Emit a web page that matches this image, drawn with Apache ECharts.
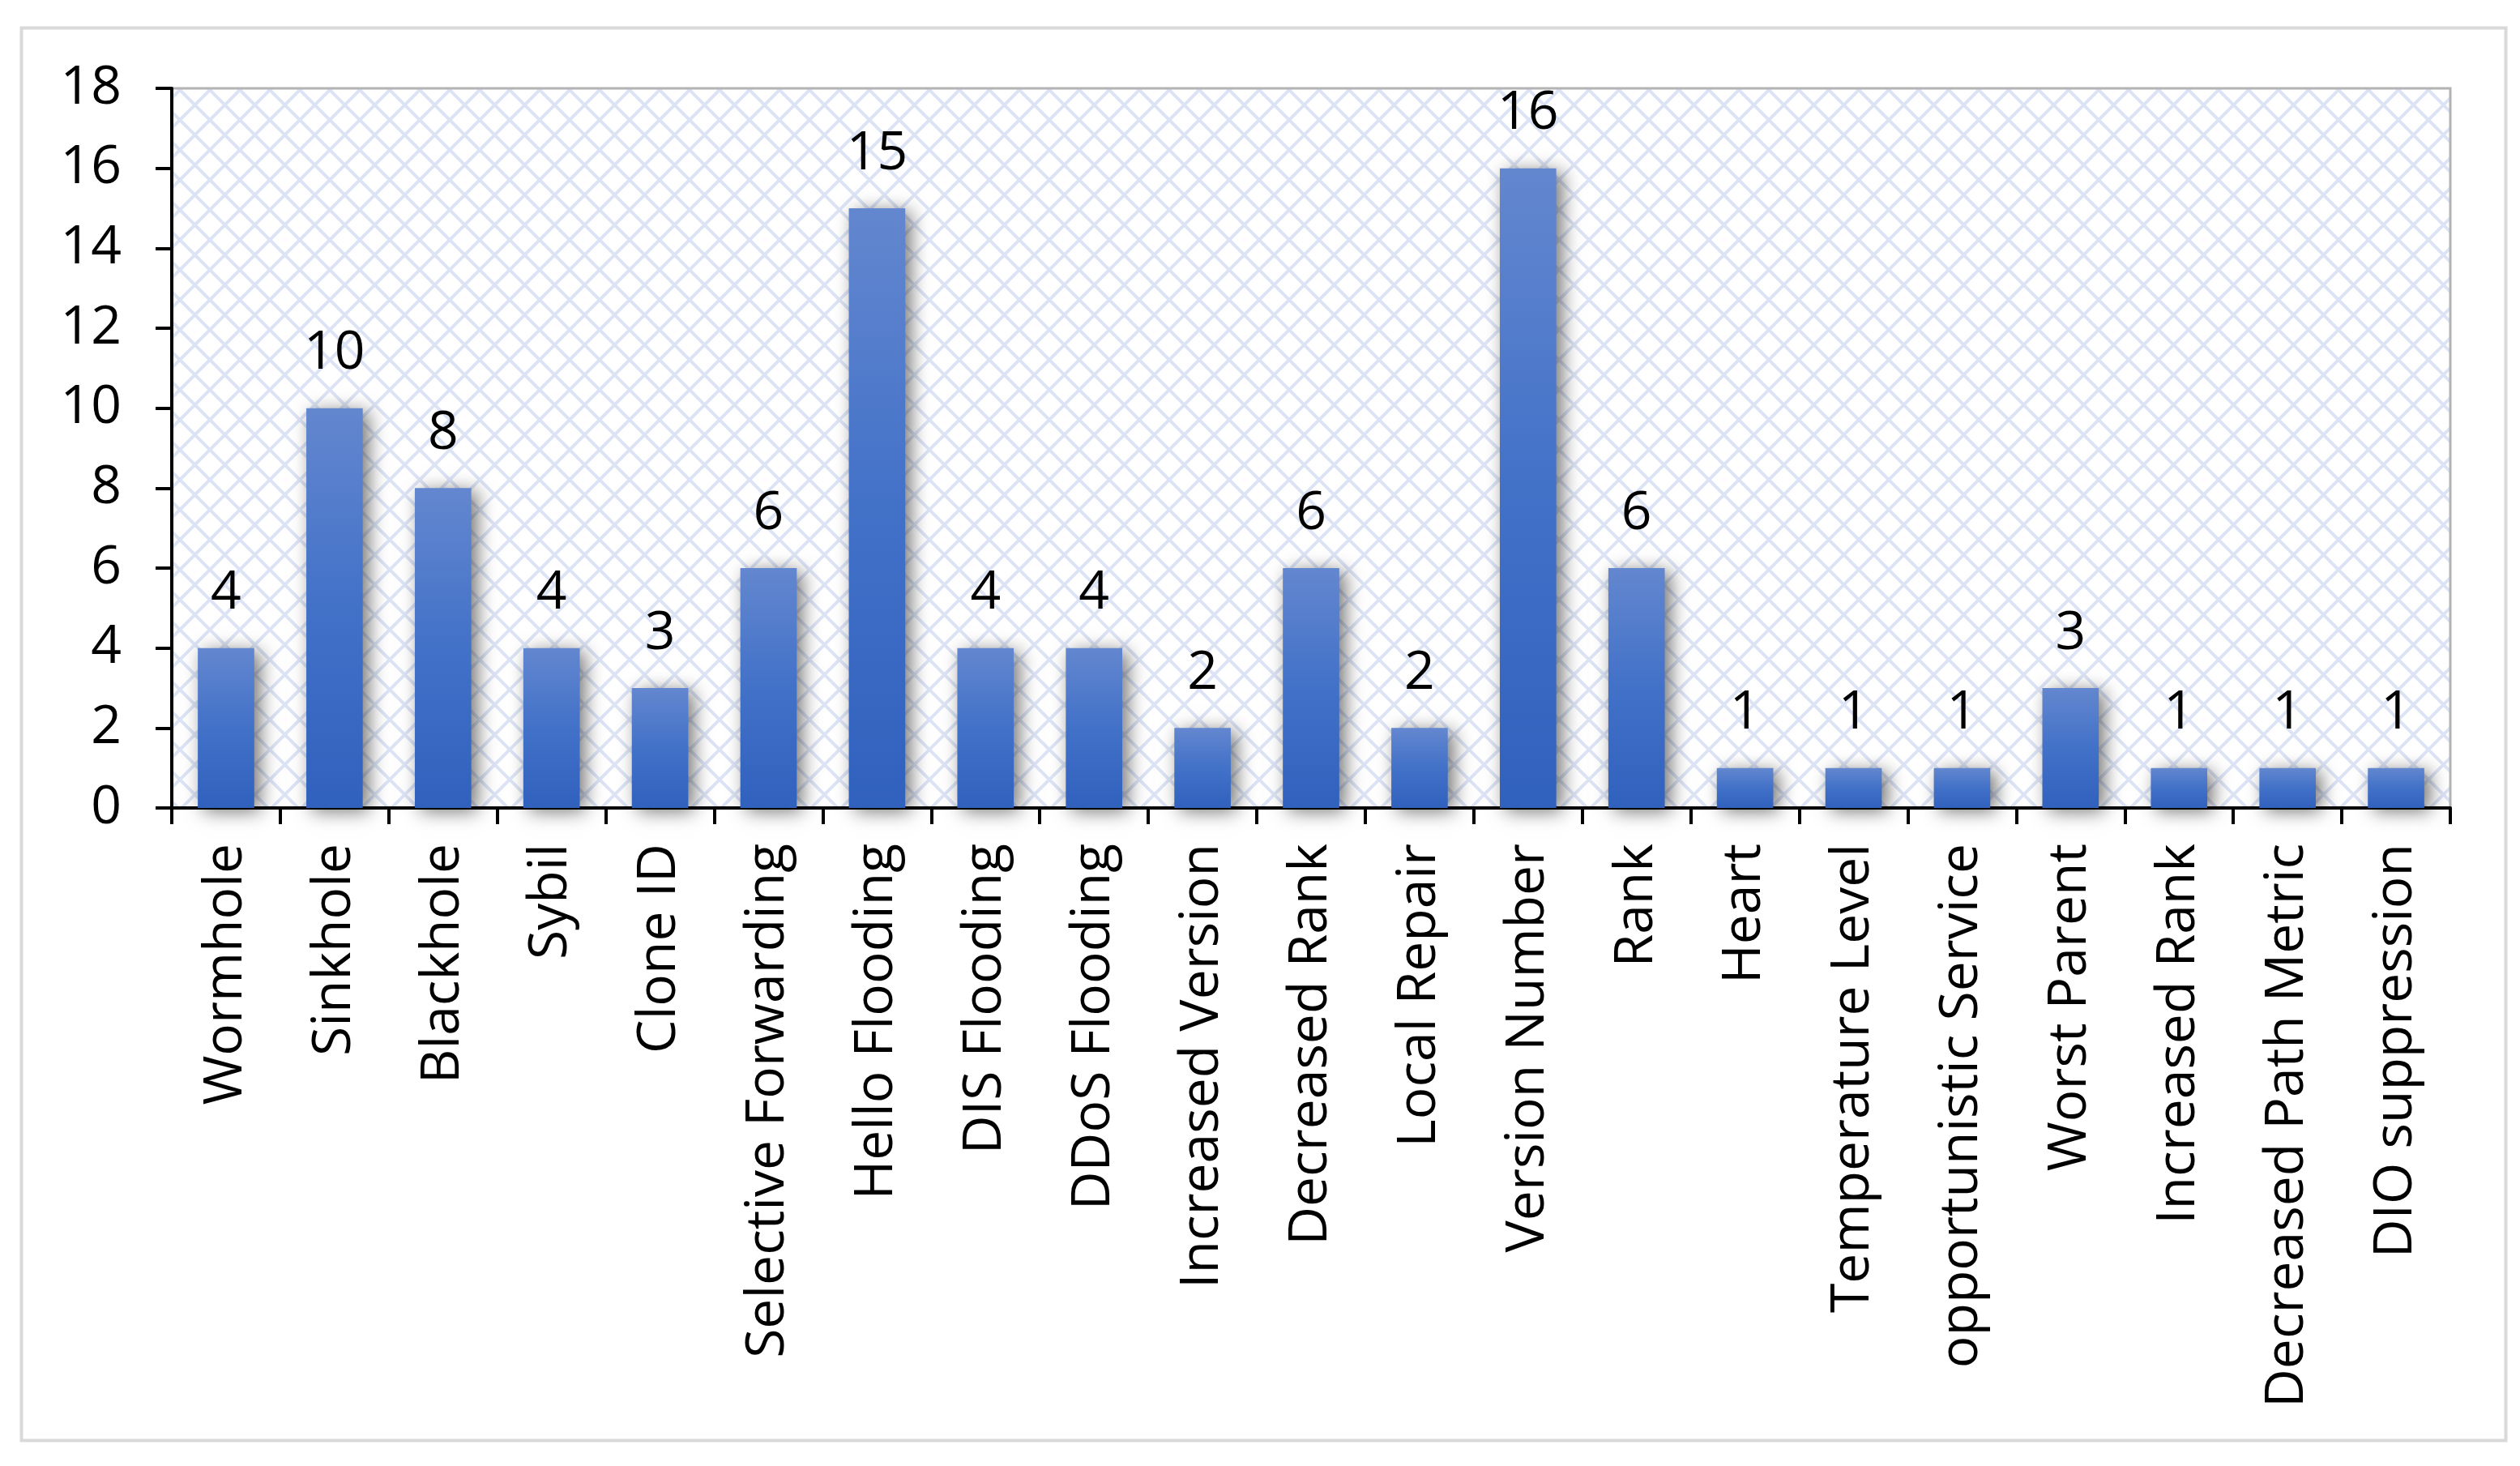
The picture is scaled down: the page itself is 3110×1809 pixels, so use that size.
<!DOCTYPE html>
<html>
<head>
<meta charset="utf-8">
<script src="https://cdn.jsdelivr.net/npm/echarts@6/dist/echarts.min.js"></script>
<style>
html,body{margin:0;padding:0;background:#fff;}
#chart{width:3110px;height:1809px;}
</style>
</head>
<body>
<div id="chart"></div>
<script>
const categories = ['Wormhole','Sinkhole','Blackhole','Sybil','Clone ID','Selective Forwarding','Hello Flooding','DIS Flooding','DDoS Flooding','Increased Version','Decreased Rank','Local Repair','Version Number','Rank','Heart','Temperature Level','opportunistic Service','Worst Parent','Increased Rank','Decreased Path Metric','DIO suppression'];
const values = [4,10,8,4,3,6,15,4,4,2,6,2,16,6,1,1,1,3,1,1,1];
const yTicks = [0,2,4,6,8,10,12,14,16,18];

// diamond lattice background pattern
const P = 37;
const pc = document.createElement('canvas');
pc.width = P; pc.height = P;
const g = pc.getContext('2d');
g.fillStyle = '#ffffff';
g.fillRect(0,0,P,P);
g.strokeStyle = '#dbe3f5';
g.lineWidth = 4;
g.beginPath();
g.moveTo(0,0); g.lineTo(P,P);
g.moveTo(P,0); g.lineTo(0,P);
g.stroke();

const FONT = '"Open Sans", sans-serif';
const chart = echarts.init(document.getElementById('chart'), null, {renderer:'canvas'});
chart.setOption({
  animation:false,
  backgroundColor:'#ffffff',
  graphic:[{
    type:'rect', left:24, top:32, z:-10,
    shape:{width:3066, height:1743},
    style:{fill:'none', stroke:'#d9d9d9', lineWidth:4}
  }],
  grid:{
    left:212, right:86, top:109, bottom:812,
    show:true,
    backgroundColor:{image:pc, repeat:'repeat'},
    borderColor:'#b3b3b3', borderWidth:3
  },
  xAxis:{
    type:'category',
    data:categories,
    axisLine:{lineStyle:{color:'#000', width:4}},
    axisTick:{show:true, length:20, lineStyle:{color:'#000', width:4}},
    axisLabel:{rotate:90, margin:44, color:'#000', fontSize:66, fontFamily:FONT, interval:0},
    splitLine:{show:false}
  },
  yAxis:{
    type:'value', min:yTicks[0], max:yTicks[yTicks.length-1], interval:2,
    axisLine:{show:true, lineStyle:{color:'#000', width:4}},
    axisTick:{show:true, length:20, lineStyle:{color:'#000', width:4}},
    axisLabel:{margin:62, color:'#000', fontSize:66, fontFamily:FONT},
    splitLine:{show:false}
  },
  series:[{
    type:'bar',
    data:values,
    barWidth:'52%',
    itemStyle:{
      color:new echarts.graphic.LinearGradient(0,0,0,1,[
        {offset:0,color:'#6387cf'},
        {offset:0.5,color:'#4271c8'},
        {offset:1,color:'#3061bd'}
      ]),
      shadowColor:'rgba(0,0,0,0.55)', shadowBlur:22, shadowOffsetX:7, shadowOffsetY:4
    },
    label:{show:true, position:'top', distance:34, color:'#000', fontSize:66, fontFamily:FONT}
  }]
});
</script>
</body>
</html>
